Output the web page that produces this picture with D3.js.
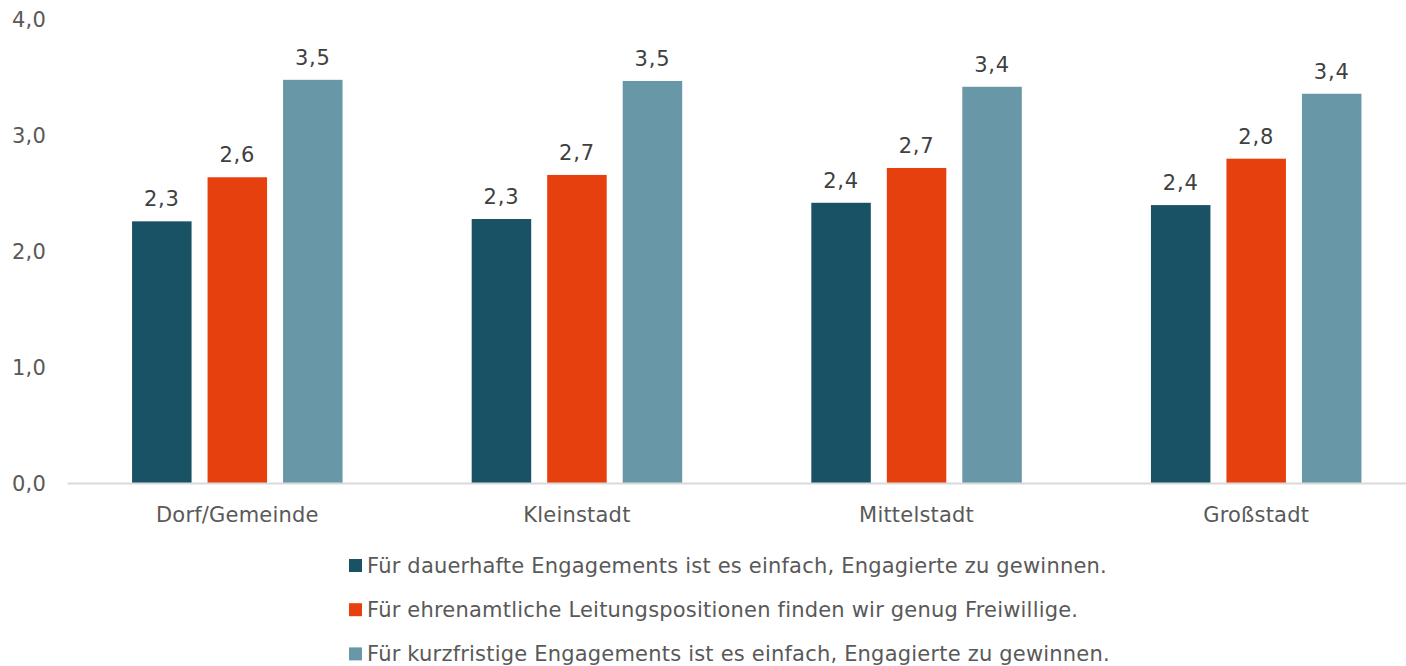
<!DOCTYPE html>
<html><head><meta charset="utf-8">
<script src="https://cdn.jsdelivr.net/npm/d3@7"></script>
<style>body{margin:0;background:#fff}svg{display:block}</style>
</head><body>
<svg id="c" width="1406" height="666"></svg>
<script>
const categories = ["Dorf/Gemeinde", "Kleinstadt", "Mittelstadt", "Großstadt"];
const seriesNames = [
  "Für dauerhafte Engagements ist es einfach, Engagierte zu gewinnen.",
  "Für ehrenamtliche Leitungspositionen finden wir genug Freiwillige.",
  "Für kurzfristige Engagements ist es einfach, Engagierte zu gewinnen."
];
const dauerhaft = [2.26, 2.28, 2.42, 2.40];
const leitung = [2.64, 2.66, 2.72, 2.80];
const kurzfristig = [3.48, 3.47, 3.42, 3.36];
const yTicks = [0, 1, 2, 3, 4];
const colors = ["#1a5265", "#e5400d", "#6898a8"];

const series = [dauerhaft, leitung, kurzfristig];
const svg = d3.select("#c");
const font = "DejaVu Sans";
const fs = 21;
const ls = 0.2;
const fmt = v => d3.format(".1f")(v).replace(".", ",");

const x0 = d3.scaleBand().domain(categories).range([67.5, 1426]).paddingInner(0).paddingOuter(0);
const y = d3.scaleLinear().domain([0, 4]).range([483.5, 19.5]);
const barW = 59.5, gap = 16;

// y axis labels
svg.append("g").selectAll("text").data(yTicks).join("text")
  .attr("x", 46).attr("y", d => y(d)).attr("dy", "0.35em")
  .attr("text-anchor", "end").attr("font-family", font).attr("font-size", fs)
  .attr("letter-spacing", ls)
  .attr("fill", "#595959").text(d => fmt(d));

// bars
const groups = svg.append("g").selectAll("g").data(categories).join("g")
  .attr("transform", d => `translate(${x0(d) + x0.bandwidth() / 2},0)`);
series.forEach((vals, si) => {
  const off = (si - 1) * (barW + gap) - barW / 2;
  groups.append("rect")
    .attr("x", off).attr("width", barW)
    .attr("y", (d, i) => y(vals[i])).attr("height", (d, i) => y(0) - y(vals[i]))
    .attr("fill", colors[si]);
  groups.append("text")
    .attr("x", off + barW / 2).attr("y", (d, i) => y(vals[i]) - 15)
    .attr("text-anchor", "middle").attr("font-family", font).attr("font-size", fs)
    .attr("letter-spacing", 0.8)
    .attr("fill", "#404040").text((d, i) => fmt(vals[i]));
});

// baseline
svg.append("line").attr("x1", 67.5).attr("x2", 1406).attr("y1", y(0)).attr("y2", y(0))
  .attr("stroke", "#d9d9d9").attr("stroke-width", 2);

// category labels
svg.append("g").selectAll("text").data(categories).join("text")
  .attr("x", d => x0(d) + x0.bandwidth() / 2).attr("y", 515).attr("dy", "0.35em")
  .attr("text-anchor", "middle").attr("font-family", font).attr("font-size", fs)
  .attr("letter-spacing", ls)
  .attr("fill", "#595959").text(d => d);

// legend
const lg = svg.append("g").selectAll("g").data(seriesNames).join("g")
  .attr("transform", (d, i) => `translate(349,${565.5 + i * 44.2})`);
lg.append("rect").attr("x", 0).attr("y", -6.5).attr("width", 13).attr("height", 13)
  .attr("fill", (d, i) => colors[i]);
lg.append("text").attr("x", 18).attr("y", 0).attr("dy", "0.35em")
  .attr("font-family", font).attr("font-size", fs).attr("letter-spacing", ls)
  .attr("fill", "#595959").text(d => d);
</script>
</body></html>
